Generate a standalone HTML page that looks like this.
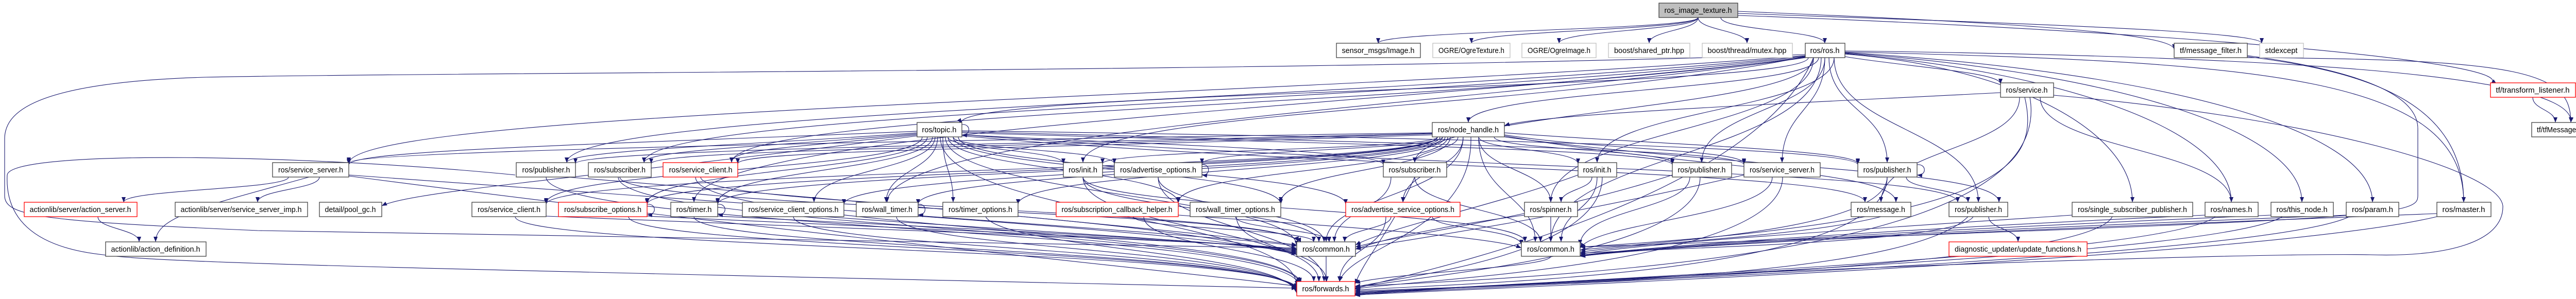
<!DOCTYPE html>
<html><head><meta charset="utf-8"><style>
html,body{margin:0;padding:0;background:#fff;width:5025px;height:581px;overflow:hidden}
svg{display:block}
text{font-family:"Liberation Sans",sans-serif;font-size:15px;fill:#000;text-anchor:middle}
.e path{fill:none;stroke:#191970;stroke-width:1.1}
rect{fill:#fff;stroke:#404040;stroke-width:1.3}
.r{stroke:#ff0000}
.g{stroke:#bfbfbf}
</style></head><body>
<svg width="5025" height="581" viewBox="0 0 5025 581" xmlns="http://www.w3.org/2000/svg">
<defs><marker id="a" viewBox="0 0 10 10" refX="10" refY="5" markerWidth="10" markerHeight="8" markerUnits="userSpaceOnUse" orient="auto" preserveAspectRatio="none"><path d="M0,0 L10,5 L0,10z" fill="#191970"/></marker></defs>
<g class="e" marker-end="url(#a)">
<path marker-end="url(#a)" d="M3296,34 C3296,59 2675,59 2675,84"/>
<path marker-end="url(#a)" d="M3296,34 C3296,59 2856,59 2856,84"/>
<path marker-end="url(#a)" d="M3296,34 C3296,59 3026,59 3026,84"/>
<path marker-end="url(#a)" d="M3296,34 C3296,59 3201,59 3201,84"/>
<path marker-end="url(#a)" d="M3296,34 C3296,59 3391,59 3391,84"/>
<path marker-end="url(#a)" d="M3340,34 C3340,59 3542,59 3542,84"/>
<path marker-end="url(#a)" d="M3373,22 C3800,40 4220,60 4220,96"/>
<path marker-end="url(#a)" d="M3373,26 C3900,45 4390,60 4390,84"/>
<path marker-end="url(#a)" d="M3373,30 C4200,60 4900,120 4834,163"/>
<path marker-end="url(#a)" d="M3530,112 C3530,175 2850,175 2850,238"/>
<path marker-end="url(#a)" d="M3510,112 C3510,175 1823,175 1867,240"/>
<path marker-end="url(#a)" d="M3581,110 C3700,130 3883,140 3883,163"/>
<path marker-end="url(#a)" d="M3542,112 C3542,214 3303,214 3303,316"/>
<path marker-end="url(#a)" d="M3542,112 C3542,214 3459,214 3459,316"/>
<path marker-end="url(#a)" d="M3550,112 C3550,214 3663,214 3663,316"/>
<path marker-end="url(#a)" d="M3560,112 C3560,214 3100,214 3100,316"/>
<path marker-end="url(#a)" d="M3520,112 C3520,214 2746,214 2746,316"/>
<path marker-end="url(#a)" d="M3504,110 C3000,214 2102,214 2102,316"/>
<path marker-end="url(#a)" d="M3504,108 C2500,190 677,214 677,318"/>
<path marker-end="url(#a)" d="M3504,109 C2600,200 1100,214 1100,316"/>
<path marker-end="url(#a)" d="M3504,110 C2700,205 1250,214 1250,316"/>
<path marker-end="url(#a)" d="M3504,111 C2800,210 1420,214 1420,316"/>
<path marker-end="url(#a)" d="M3560,112 C3560,252 3840,252 3840,393"/>
<path marker-end="url(#a)" d="M3581,105 C3900,130 4139,252 4139,393"/>
<path marker-end="url(#a)" d="M3581,104 C4000,140 4331,252 4331,393"/>
<path marker-end="url(#a)" d="M3581,103 C4100,140 4468,252 4468,393"/>
<path marker-end="url(#a)" d="M3581,102 C4200,140 4605,252 4605,393"/>
<path marker-end="url(#a)" d="M3581,101 C4400,120 4782,150 4782,393"/>
<path marker-end="url(#a)" d="M3520,112 C3520,252 3010,252 3010,393"/>
<path marker-end="url(#a)" d="M3504,112 C2800,200 1347,252 1347,393"/>
<path marker-end="url(#a)" d="M3504,112 C2900,200 1722,252 1722,393"/>
<path marker-end="url(#a)" d="M3581,99 C4500,110 5000,150 4990,238"/>
<path marker-end="url(#a)" d="M3535,112 C3535,300 3010,300 3010,470"/>
<path marker-end="url(#a)" d="M3520,112 C3400,400 2700,540 2630,561"/>
<path marker-end="url(#a)" d="M3504,106 C2500,140 900,140 400,150 C60,160 9,220 9,270 L9,380 C9,420 80,430 500,448 L2517,482"/>
<path marker-end="url(#a)" d="M1000,340 C600,300 20,290 14,340 C10,420 60,480 200,495 C300,510 700,520 2517,560"/>
<path marker-end="url(#a)" d="M3883,180 C3500,200 3000,220 2920,244"/>
<path marker-end="url(#a)" d="M3920,189 C3920,290 3651,290 3651,393"/>
<path marker-end="url(#a)" d="M3930,189 C3960,320 3900,430 3067,480"/>
<path marker-end="url(#a)" d="M3940,189 C3980,420 3500,520 2630,556"/>
<path marker-end="url(#a)" d="M3960,189 C3960,290 4331,290 4331,393"/>
<path marker-end="url(#a)" d="M4916,189 C4916,213 4960,213 4960,238"/>
<path marker-end="url(#a)" d="M4362,112 C4900,115 4990,140 4990,238"/>
<path marker-end="url(#a)" d="M4362,110 C4600,140 4782,200 4782,393"/>
<path marker-end="url(#a)" d="M1780,258 C1500,280 1100,291 1100,316"/>
<path marker-end="url(#a)" d="M1780,260 C1500,285 1250,291 1250,316"/>
<path marker-end="url(#a)" d="M1780,262 C1500,290 1420,291 1420,316"/>
<path marker-end="url(#a)" d="M1780,255 C1200,280 677,291 677,320"/>
<path marker-end="url(#a)" d="M1840,266 C1840,291 2064,291 2064,318"/>
<path marker-end="url(#a)" d="M1850,266 C1850,291 2163,291 2163,318"/>
<path marker-end="url(#a)" d="M1867,262 C2200,280 2685,291 2685,320"/>
<path marker-end="url(#a)" d="M1867,258 C2600,280 3246,291 3246,320"/>
<path marker-end="url(#a)" d="M1867,256 C2800,280 3385,291 3385,320"/>
<path marker-end="url(#a)" d="M1867,254 C3000,270 3606,291 3606,320"/>
<path marker-end="url(#a)" d="M1790,266 C1790,330 1060,330 1060,395"/>
<path marker-end="url(#a)" d="M1800,266 C1800,330 1256,330 1256,395"/>
<path marker-end="url(#a)" d="M1810,266 C1810,330 1393,330 1393,395"/>
<path marker-end="url(#a)" d="M1815,266 C1815,330 1580,330 1580,393"/>
<path marker-end="url(#a)" d="M1820,266 C1820,330 1720,330 1720,393"/>
<path marker-end="url(#a)" d="M1830,266 C1830,330 1850,330 1850,393"/>
<path marker-end="url(#a)" d="M1840,266 C1840,330 2287,330 2287,395"/>
<path marker-end="url(#a)" d="M1850,266 C1850,330 2486,330 2486,397"/>
<path marker-end="url(#a)" d="M1860,266 C1860,330 2612,330 2612,397"/>
<path marker-end="url(#a)" d="M1780,264 C1200,340 800,370 741,400"/>
<path marker-end="url(#a)" d="M1867,264 C2600,330 3620,330 3620,393"/>
<path marker-end="url(#a)" d="M1867,262 C2800,330 3800,330 3800,393"/>
<path marker-end="url(#a)" d="M1835,266 C1835,380 2517,380 2517,478"/>
<path marker-end="url(#a)" d="M1825,266 C1825,420 2517,420 2517,556"/>
<path marker-end="url(#a)" d="M1867,242 C1885,240 1885,264 1867,262"/>
<path marker-end="url(#a)" d="M2830,266 C2830,291 2746,291 2746,316"/>
<path marker-end="url(#a)" d="M2870,266 C2870,291 3063,291 3063,318"/>
<path marker-end="url(#a)" d="M2900,266 C2900,291 3246,291 3246,318"/>
<path marker-end="url(#a)" d="M2920,262 C3100,291 3385,291 3385,318"/>
<path marker-end="url(#a)" d="M2920,258 C3200,280 3606,291 3606,318"/>
<path marker-end="url(#a)" d="M2800,266 C2800,291 2333,291 2333,318"/>
<path marker-end="url(#a)" d="M2790,266 C2790,291 2140,291 2140,318"/>
<path marker-end="url(#a)" d="M2780,258 C2000,270 677,291 677,316"/>
<path marker-end="url(#a)" d="M2780,259 C2000,280 1117,291 1117,318"/>
<path marker-end="url(#a)" d="M2780,260 C2000,285 1264,291 1264,318"/>
<path marker-end="url(#a)" d="M2780,262 C2000,290 1432,291 1432,318"/>
<path marker-end="url(#a)" d="M2870,266 C2870,330 3010,330 3010,393"/>
<path marker-end="url(#a)" d="M2840,266 C2840,330 2723,330 2723,393"/>
<path marker-end="url(#a)" d="M2790,266 C2790,330 1060,330 1060,397"/>
<path marker-end="url(#a)" d="M2790,266 C2790,330 1256,330 1256,397"/>
<path marker-end="url(#a)" d="M2790,266 C2790,330 1393,330 1393,397"/>
<path marker-end="url(#a)" d="M2795,266 C2795,330 1638,330 1638,397"/>
<path marker-end="url(#a)" d="M2800,266 C2800,330 1782,330 1782,397"/>
<path marker-end="url(#a)" d="M2805,266 C2805,330 1976,330 1976,397"/>
<path marker-end="url(#a)" d="M2810,266 C2810,330 2287,330 2287,393"/>
<path marker-end="url(#a)" d="M2815,266 C2815,330 2486,330 2486,393"/>
<path marker-end="url(#a)" d="M2920,264 C3300,330 3680,330 3680,393"/>
<path marker-end="url(#a)" d="M2920,266 C3400,330 3880,330 3880,393"/>
<path marker-end="url(#a)" d="M2840,266 C2840,380 2574,380 2574,470"/>
<path marker-end="url(#a)" d="M2870,266 C2870,380 2980,380 2980,470"/>
<path marker-end="url(#a)" d="M2855,266 C2860,450 2620,480 2600,547"/>
<path marker-end="url(#a)" d="M560,344 C560,368 240,368 240,393"/>
<path marker-end="url(#a)" d="M620,344 C620,368 500,368 500,393"/>
<path marker-end="url(#a)" d="M600,344 C400,400 302,420 302,470"/>
<path marker-end="url(#a)" d="M677,340 C1500,400 2400,460 2517,478"/>
<path marker-end="url(#a)" d="M677,342 C1500,450 2400,540 2517,556"/>
<path marker-end="url(#a)" d="M1060,344 C1060,445 2500,445 2520,552"/>
<path marker-end="url(#a)" d="M1100,344 C1800,400 2400,460 2517,476"/>
<path marker-end="url(#a)" d="M1203,344 C1203,407 2500,407 2520,470"/>
<path marker-end="url(#a)" d="M1200,344 C1200,445 2500,445 2522,549"/>
<path marker-end="url(#a)" d="M1360,344 C1360,407 2500,407 2525,472"/>
<path marker-end="url(#a)" d="M1350,344 C1350,445 2500,445 2525,550"/>
<path marker-end="url(#a)" d="M2102,344 C2102,407 2560,407 2560,470"/>
<path marker-end="url(#a)" d="M2102,344 C2102,445 2560,445 2560,547"/>
<path marker-end="url(#a)" d="M2102,344 C2102,407 2960,407 2960,470"/>
<path marker-end="url(#a)" d="M2248,344 C2248,407 2570,407 2570,470"/>
<path marker-end="url(#a)" d="M2248,344 C2248,445 2570,445 2570,547"/>
<path marker-end="url(#a)" d="M2333,320 C2350,318 2350,342 2333,340"/>
<path marker-end="url(#a)" d="M2746,344 C2746,407 2990,407 2990,470"/>
<path marker-end="url(#a)" d="M2700,344 C2700,407 2590,407 2590,470"/>
<path marker-end="url(#a)" d="M2746,344 C2700,450 2650,500 2630,552"/>
<path marker-end="url(#a)" d="M3090,344 C3090,368 3030,368 3030,393"/>
<path marker-end="url(#a)" d="M3100,344 C3100,407 3030,407 3030,470"/>
<path marker-end="url(#a)" d="M3110,344 C3110,500 2700,540 2630,558"/>
<path marker-end="url(#a)" d="M3063,340 C2900,400 2700,440 2631,476"/>
<path marker-end="url(#a)" d="M3280,344 C3280,407 3067,407 3067,476"/>
<path marker-end="url(#a)" d="M3300,344 C3300,500 2700,540 2630,560"/>
<path marker-end="url(#a)" d="M3246,340 C3000,420 2700,460 2631,480"/>
<path marker-end="url(#a)" d="M3440,344 C3440,420 3100,430 3067,482"/>
<path marker-end="url(#a)" d="M3460,344 C3460,520 2700,545 2630,562"/>
<path marker-end="url(#a)" d="M3385,340 C3000,430 2700,470 2631,484"/>
<path marker-end="url(#a)" d="M3700,344 C3700,368 3820,368 3820,393"/>
<path marker-end="url(#a)" d="M3663,344 C3663,450 3200,470 3067,486"/>
<path marker-end="url(#a)" d="M3663,344 C3663,540 2800,550 2630,564"/>
<path marker-end="url(#a)" d="M3721,320 C3740,318 3740,342 3721,340"/>
<path marker-end="url(#a)" d="M190,421 C190,445 270,445 270,470"/>
<path marker-end="url(#a)" d="M1060,420 C1800,450 2400,470 2517,484"/>
<path marker-end="url(#a)" d="M1000,421 C1000,484 2500,484 2517,560"/>
<path marker-end="url(#a)" d="M1256,420 C1900,450 2400,470 2517,486"/>
<path marker-end="url(#a)" d="M1220,421 C1220,484 2500,484 2517,562"/>
<path marker-end="url(#a)" d="M1256,397 C1275,395 1275,419 1256,417"/>
<path marker-end="url(#a)" d="M1393,420 C2000,450 2400,470 2517,488"/>
<path marker-end="url(#a)" d="M1347,421 C1347,484 2500,484 2517,564"/>
<path marker-end="url(#a)" d="M1393,397 C1412,395 1412,419 1393,417"/>
<path marker-end="url(#a)" d="M1600,421 C2000,450 2400,470 2517,490"/>
<path marker-end="url(#a)" d="M1540,421 C1540,484 2500,484 2517,566"/>
<path marker-end="url(#a)" d="M1782,420 C2200,450 2400,470 2517,492"/>
<path marker-end="url(#a)" d="M1740,421 C1740,484 2500,484 2517,568"/>
<path marker-end="url(#a)" d="M1782,397 C1800,395 1800,419 1782,417"/>
<path marker-end="url(#a)" d="M1976,420 C2300,450 2400,470 2517,494"/>
<path marker-end="url(#a)" d="M1913,421 C1950,484 2500,490 2517,570"/>
<path marker-end="url(#a)" d="M2200,421 C2200,445 2550,445 2550,470"/>
<path marker-end="url(#a)" d="M2220,421 C2220,484 2550,484 2550,547"/>
<path marker-end="url(#a)" d="M2287,418 C2600,440 2900,460 2953,482"/>
<path marker-end="url(#a)" d="M2398,421 C2398,445 2580,445 2580,470"/>
<path marker-end="url(#a)" d="M2400,421 C2400,484 2575,484 2575,547"/>
<path marker-end="url(#a)" d="M2700,421 C2700,445 2610,445 2610,470"/>
<path marker-end="url(#a)" d="M2690,421 C2690,484 2600,484 2600,547"/>
<path marker-end="url(#a)" d="M2780,421 C2780,445 2953,445 2953,476"/>
<path marker-end="url(#a)" d="M3010,421 L3010,470"/>
<path marker-end="url(#a)" d="M2959,418 C2800,440 2700,460 2631,484"/>
<path marker-end="url(#a)" d="M3651,421 C3500,460 3200,470 3067,490"/>
<path marker-end="url(#a)" d="M3860,421 C3860,445 3917,445 3917,470"/>
<path marker-end="url(#a)" d="M3830,421 C3800,470 3300,480 3067,492"/>
<path marker-end="url(#a)" d="M3820,421 C3700,540 3000,550 2630,566"/>
<path marker-end="url(#a)" d="M4022,418 C3700,440 3200,470 3067,494"/>
<path marker-end="url(#a)" d="M4100,421 C4050,520 3000,550 2630,568"/>
<path marker-end="url(#a)" d="M4280,418 C3800,440 3300,470 3067,496"/>
<path marker-end="url(#a)" d="M4300,421 C4200,500 3000,545 2630,570"/>
<path marker-end="url(#a)" d="M4408,418 C3900,440 3300,470 3067,497"/>
<path marker-end="url(#a)" d="M4430,421 C4300,500 3000,545 2630,571"/>
<path marker-end="url(#a)" d="M4554,418 C4000,440 3300,470 3067,498"/>
<path marker-end="url(#a)" d="M4560,421 C4400,500 3000,550 2630,572"/>
<path marker-end="url(#a)" d="M4730,415 C4100,440 3300,470 3067,498"/>
<path marker-end="url(#a)" d="M4730,421 C4400,500 3000,555 2630,573"/>
<path marker-end="url(#a)" d="M2574,498 L2574,547"/>
<path marker-end="url(#a)" d="M3010,498 C3010,520 2700,530 2630,550"/>
<path marker-end="url(#a)" d="M3986,185 C4500,230 4850,330 4858,400 C4860,470 4750,500 4600,495 C4300,490 3000,540 2630,574"/>
<path marker-end="url(#a)" d="M4362,108 C4600,140 4693,190 4693,250 L4693,380 C4693,420 4650,425 3067,480"/>
</g>
<g>
<rect x="3220" y="6" width="153" height="28" style="fill:#bfbfbf"/><text x="3296" y="25" textLength="131" lengthAdjust="spacingAndGlyphs">ros_image_texture.h</text>
<rect x="2594" y="84" width="163" height="28"/><text x="2675" y="103" textLength="141" lengthAdjust="spacingAndGlyphs">sensor_msgs/Image.h</text>
<rect class="g" x="2781" y="84" width="150" height="28"/><text x="2856" y="103" textLength="128" lengthAdjust="spacingAndGlyphs">OGRE/OgreTexture.h</text>
<rect class="g" x="2954" y="84" width="144" height="28"/><text x="3026" y="103" textLength="122" lengthAdjust="spacingAndGlyphs">OGRE/OgreImage.h</text>
<rect class="g" x="3122" y="84" width="158" height="28"/><text x="3201" y="103" textLength="136" lengthAdjust="spacingAndGlyphs">boost/shared_ptr.hpp</text>
<rect class="g" x="3304" y="84" width="175" height="28"/><text x="3391" y="103" textLength="153" lengthAdjust="spacingAndGlyphs">boost/thread/mutex.hpp</text>
<rect x="3504" y="84" width="77" height="28"/><text x="3542" y="103" textLength="57" lengthAdjust="spacingAndGlyphs">ros/ros.h</text>
<rect x="4220" y="84" width="142" height="28"/><text x="4291" y="103" textLength="120" lengthAdjust="spacingAndGlyphs">tf/message_filter.h</text>
<rect class="g" x="4386" y="84" width="85" height="28"/><text x="4428" y="103" textLength="63" lengthAdjust="spacingAndGlyphs">stdexcept</text>
<rect x="3883" y="161" width="103" height="28"/><text x="3934" y="180" textLength="81" lengthAdjust="spacingAndGlyphs">ros/service.h</text>
<rect class="r" x="4834" y="161" width="165" height="28"/><text x="4916" y="180" textLength="143" lengthAdjust="spacingAndGlyphs">tf/transform_listener.h</text>
<rect x="1780" y="238" width="87" height="28"/><text x="1823" y="257" textLength="67" lengthAdjust="spacingAndGlyphs">ros/topic.h</text>
<rect x="2780" y="238" width="140" height="28"/><text x="2850" y="257" textLength="118" lengthAdjust="spacingAndGlyphs">ros/node_handle.h</text>
<rect x="4914" y="238" width="108" height="28"/><text x="4968" y="257" textLength="88" lengthAdjust="spacingAndGlyphs">tf/tfMessage.h</text>
<rect x="529" y="316" width="148" height="28"/><text x="603" y="335" textLength="126" lengthAdjust="spacingAndGlyphs">ros/service_server.h</text>
<rect x="1002" y="316" width="115" height="28"/><text x="1060" y="335" textLength="93" lengthAdjust="spacingAndGlyphs">ros/publisher.h</text>
<rect x="1142" y="316" width="122" height="28"/><text x="1203" y="335" textLength="100" lengthAdjust="spacingAndGlyphs">ros/subscriber.h</text>
<rect class="r" x="1287" y="316" width="145" height="28"/><text x="1360" y="335" textLength="123" lengthAdjust="spacingAndGlyphs">ros/service_client.h</text>
<rect x="2064" y="316" width="76" height="28"/><text x="2102" y="335" textLength="56" lengthAdjust="spacingAndGlyphs">ros/init.h</text>
<rect x="2163" y="316" width="170" height="28"/><text x="2248" y="335" textLength="148" lengthAdjust="spacingAndGlyphs">ros/advertise_options.h</text>
<rect x="2685" y="316" width="123" height="28"/><text x="2746" y="335" textLength="101" lengthAdjust="spacingAndGlyphs">ros/subscriber.h</text>
<rect x="3063" y="316" width="75" height="28"/><text x="3100" y="335" textLength="55" lengthAdjust="spacingAndGlyphs">ros/init.h</text>
<rect x="3246" y="316" width="115" height="28"/><text x="3303" y="335" textLength="93" lengthAdjust="spacingAndGlyphs">ros/publisher.h</text>
<rect x="3385" y="316" width="148" height="28"/><text x="3459" y="335" textLength="126" lengthAdjust="spacingAndGlyphs">ros/service_server.h</text>
<rect x="3606" y="316" width="115" height="28"/><text x="3663" y="335" textLength="93" lengthAdjust="spacingAndGlyphs">ros/publisher.h</text>
<rect class="r" x="47" y="393" width="219" height="28"/><text x="156" y="412" textLength="197" lengthAdjust="spacingAndGlyphs">actionlib/server/action_server.h</text>
<rect x="340" y="393" width="257" height="28"/><text x="468" y="412" textLength="235" lengthAdjust="spacingAndGlyphs">actionlib/server/service_server_imp.h</text>
<rect x="620" y="393" width="121" height="28"/><text x="680" y="412" textLength="99" lengthAdjust="spacingAndGlyphs">detail/pool_gc.h</text>
<rect x="916" y="393" width="144" height="28"/><text x="988" y="412" textLength="122" lengthAdjust="spacingAndGlyphs">ros/service_client.h</text>
<rect class="r" x="1084" y="393" width="172" height="28"/><text x="1170" y="412" textLength="150" lengthAdjust="spacingAndGlyphs">ros/subscribe_options.h</text>
<rect x="1302" y="393" width="91" height="28"/><text x="1347" y="412" textLength="69" lengthAdjust="spacingAndGlyphs">ros/timer.h</text>
<rect x="1441" y="393" width="197" height="28"/><text x="1540" y="412" textLength="175" lengthAdjust="spacingAndGlyphs">ros/service_client_options.h</text>
<rect x="1662" y="393" width="120" height="28"/><text x="1722" y="412" textLength="98" lengthAdjust="spacingAndGlyphs">ros/wall_timer.h</text>
<rect x="1830" y="393" width="146" height="28"/><text x="1903" y="412" textLength="124" lengthAdjust="spacingAndGlyphs">ros/timer_options.h</text>
<rect class="r" x="2050" y="393" width="237" height="28"/><text x="2168" y="412" textLength="215" lengthAdjust="spacingAndGlyphs">ros/subscription_callback_helper.h</text>
<rect x="2310" y="393" width="176" height="28"/><text x="2398" y="412" textLength="154" lengthAdjust="spacingAndGlyphs">ros/wall_timer_options.h</text>
<rect class="r" x="2612" y="393" width="222" height="28"/><text x="2723" y="412" textLength="200" lengthAdjust="spacingAndGlyphs">ros/advertise_service_options.h</text>
<rect x="2959" y="393" width="103" height="28"/><text x="3010" y="412" textLength="81" lengthAdjust="spacingAndGlyphs">ros/spinner.h</text>
<rect x="3593" y="393" width="116" height="28"/><text x="3651" y="412" textLength="94" lengthAdjust="spacingAndGlyphs">ros/message.h</text>
<rect x="3783" y="393" width="114" height="28"/><text x="3840" y="412" textLength="92" lengthAdjust="spacingAndGlyphs">ros/publisher.h</text>
<rect x="4022" y="393" width="234" height="28"/><text x="4139" y="412" textLength="212" lengthAdjust="spacingAndGlyphs">ros/single_subscriber_publisher.h</text>
<rect x="4280" y="393" width="103" height="28"/><text x="4331" y="412" textLength="81" lengthAdjust="spacingAndGlyphs">ros/names.h</text>
<rect x="4408" y="393" width="121" height="28"/><text x="4468" y="412" textLength="99" lengthAdjust="spacingAndGlyphs">ros/this_node.h</text>
<rect x="4554" y="393" width="102" height="28"/><text x="4605" y="412" textLength="80" lengthAdjust="spacingAndGlyphs">ros/param.h</text>
<rect x="4730" y="393" width="105" height="28"/><text x="4782" y="412" textLength="83" lengthAdjust="spacingAndGlyphs">ros/master.h</text>
<rect x="205" y="470" width="195" height="28"/><text x="302" y="489" textLength="173" lengthAdjust="spacingAndGlyphs">actionlib/action_definition.h</text>
<rect x="2517" y="470" width="114" height="28"/><text x="2574" y="489" textLength="92" lengthAdjust="spacingAndGlyphs">ros/common.h</text>
<rect x="2953" y="470" width="114" height="28"/><text x="3010" y="489" textLength="92" lengthAdjust="spacingAndGlyphs">ros/common.h</text>
<rect class="r" x="3783" y="470" width="268" height="28"/><text x="3917" y="489" textLength="246" lengthAdjust="spacingAndGlyphs">diagnostic_updater/update_functions.h</text>
<rect class="r" x="2517" y="547" width="113" height="28"/><text x="2573" y="566" textLength="91" lengthAdjust="spacingAndGlyphs">ros/forwards.h</text>
</g>
</svg>
</body></html>
